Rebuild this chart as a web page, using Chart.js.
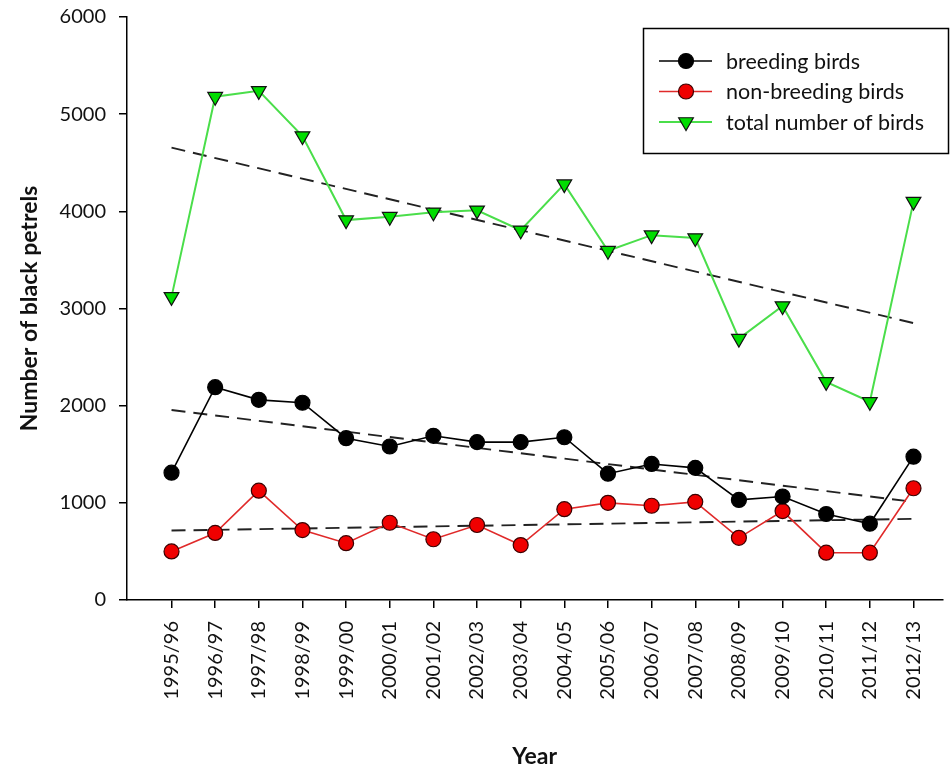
<!DOCTYPE html>
<html lang="en">
<head>
    <meta charset="UTF-8">
    <title>Black petrels</title>
    <script src="https://cdn.jsdelivr.net/npm/chart.js"></script>
    <style>
        body {
            margin: 0;
            background-color: white;
        }
        #wrap {
            width: 952px;
            height: 771px;
        }
    </style>
</head>
<body>

<div id="wrap">
    <canvas id="myChart" width="952" height="771"></canvas>
</div>

<script>
    // values
    const seasons = ['1995/96', '1996/97', '1997/98', '1998/99', '1999/00', '2000/01', '2001/02', '2002/03', '2003/04',
        '2004/05', '2005/06', '2006/07', '2007/08', '2008/09', '2009/10', '2010/11', '2011/12', '2012/13'];
    const breeding = [1310, 2190, 2060, 2030, 1665, 1580, 1690, 1625, 1625, 1675, 1300, 1400, 1360, 1030, 1065, 885, 785, 1475];
    const nonBreeding = [500, 690, 1125, 720, 585, 795, 625, 772, 565, 935, 1000, 970, 1010, 640, 915, 487, 487, 1150];
    const total = [3120, 5180, 5240, 4775, 3910, 3945, 3990, 4010, 3805, 4280, 3595, 3755, 3725, 2690, 3025, 2245, 2040, 4100];

    // dashed trend lines, start and end values (first and last season)
    const trendEnds = [0, 17];
    const breedingTrend = [1955, 1010];
    const nonBreedingTrend = [715, 835];
    const totalTrend = [4655, 2850];

    const yTicks = [0, 1000, 2000, 3000, 4000, 5000, 6000];

    const FONT = 'Lato, "Open Sans", sans-serif';

    function points(values) {
        return values.map((v, i) => ({ x: i, y: v }));
    }
    function trend(values) {
        return values.map((v, i) => ({ x: trendEnds[i], y: v }));
    }

    const series = [
        { label: 'breeding birds', data: breeding, line: '#000000', fill: '#000000', edge: '#000000', style: 'circle', rot: 0, radius: 7.5 },
        { label: 'non-breeding birds', data: nonBreeding, line: '#e02a2a', fill: '#f00000', edge: '#3a0000', style: 'circle', rot: 0, radius: 7.5 },
        { label: 'total number of birds', data: total, line: '#4ade4a', fill: '#00dd00', edge: '#111111', style: 'triangle', rot: 180, radius: 8.5 }
    ];

    const datasets = series.map(s => ({
        label: s.label,
        data: points(s.data),
        borderColor: s.line,
        borderWidth: s.style === 'triangle' ? 2 : 1.6,
        pointStyle: s.style,
        rotation: s.rot,
        pointRadius: s.radius,
        pointBackgroundColor: s.fill,
        pointBorderColor: s.edge,
        pointBorderWidth: 1.2,
        tension: 0,
        clip: false
    }));

    [totalTrend, breedingTrend, nonBreedingTrend].forEach(t => {
        datasets.push({
            label: 'trend',
            data: trend(t),
            borderColor: '#222222',
            borderWidth: 1.9,
            borderDash: [14, 8],
            pointRadius: 0,
            tension: 0
        });
    });

    // legend in a framed box, line with marker like the original
    const boxLegend = {
        id: 'boxLegend',
        afterDraw(chart) {
            const ctx = chart.ctx;
            ctx.save();
            ctx.strokeStyle = '#000';
            ctx.lineWidth = 1.5;
            ctx.strokeRect(643.5, 28.5, 305, 125);
            ctx.font = '21.5px ' + FONT;
            ctx.textBaseline = 'middle';
            series.forEach((s, i) => {
                const y = 61 + i * 30.5;
                ctx.strokeStyle = s.line;
                ctx.lineWidth = s.style === 'triangle' ? 2 : 1.6;
                ctx.setLineDash([]);
                ctx.beginPath();
                ctx.moveTo(659, y);
                ctx.lineTo(712, y);
                ctx.stroke();
                ctx.fillStyle = s.fill;
                ctx.strokeStyle = s.edge;
                ctx.lineWidth = 1.2;
                Chart.helpers.drawPoint(ctx, { pointStyle: s.style, radius: s.radius, rotation: s.rot, borderWidth: 1.2 }, 686, y);
                ctx.fillStyle = '#111';
                ctx.fillText(s.label, 726, y + 1);
            });
            ctx.restore();
        }
    };

    const ctx = document.getElementById('myChart').getContext('2d');
    const myChart = new Chart(ctx, {
        type: 'line',
        data: { datasets: datasets },
        options: {
            responsive: false,
            animation: false,
            layout: { padding: { top: 17, right: 2, left: 0, bottom: 0 } },
            plugins: {
                legend: { display: false },
                tooltip: { enabled: false }
            },
            scales: {
                x: {
                    type: 'linear',
                    min: -1.02,
                    max: 17.66,
                    afterBuildTicks: scale => {
                        scale.ticks = seasons.map((s, i) => ({ value: i }));
                    },
                    afterFit: scale => {
                        scale.height = 171;
                        scale.paddingLeft = 0;
                        scale.paddingRight = 0;
                    },
                    grid: { display: true, drawOnChartArea: false, drawTicks: true, tickLength: 8, color: '#000', lineWidth: 1.5 },
                    border: { display: true, color: '#000', width: 1.5 },
                    ticks: {
                        autoSkip: false,
                        minRotation: 90,
                        maxRotation: 90,
                        padding: 13,
                        color: '#111',
                        font: { family: FONT, size: 20 },
                        callback: v => seasons[v]
                    },
                    title: {
                        display: true,
                        text: 'Year',
                        color: '#111',
                        font: { family: FONT, size: 23, weight: 'bold' },
                        padding: { top: 0, bottom: 1 }
                    }
                },
                y: {
                    min: 0,
                    max: 6000,
                    afterBuildTicks: scale => {
                        scale.ticks = yTicks.map(v => ({ value: v }));
                    },
                    afterFit: scale => {
                        scale.width = 127;
                        scale.paddingTop = 0;
                        scale.paddingBottom = 0;
                    },
                    grid: { display: true, drawOnChartArea: false, drawTicks: true, tickLength: 8, color: '#000', lineWidth: 1.5 },
                    border: { display: true, color: '#000', width: 1.5 },
                    ticks: {
                        padding: 13,
                        color: '#111',
                        font: { family: FONT, size: 20 },
                        callback: v => String(v)
                    },
                    title: {
                        display: true,
                        text: 'Number of black petrels',
                        color: '#111',
                        font: { family: FONT, size: 23, weight: 'bold' },
                        padding: { top: 16, bottom: 0 }
                    }
                }
            }
        },
        plugins: [boxLegend]
    });
</script>
</body>
</html>
